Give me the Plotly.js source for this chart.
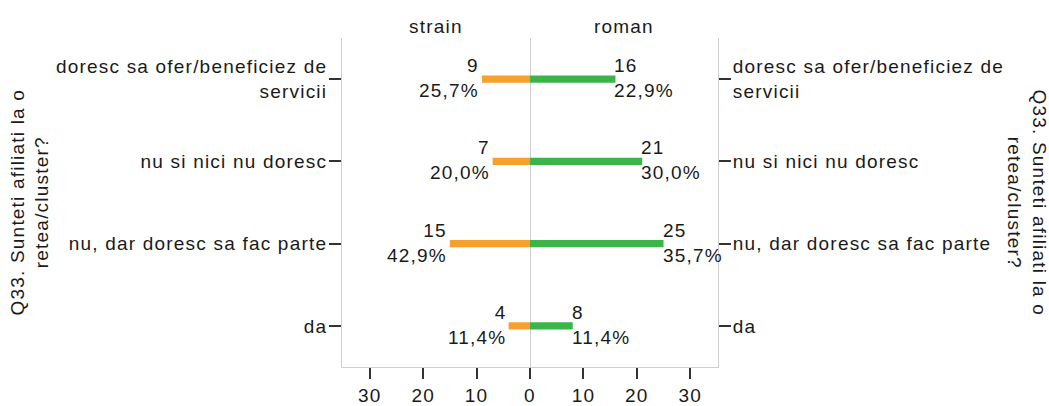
<!DOCTYPE html>
<html>
<head>
<meta charset="utf-8">
<script src="https://cdn.plot.ly/plotly-3.0.1.min.js"></script>
<style>
html, body { margin: 0; padding: 0; background: #fff; }
#chart { width: 1049px; height: 406px; }
text { letter-spacing: 1.2px; }
</style>
</head>
<body>
<div id="chart"></div>
<script>
// Categories, top to bottom
const categories = [
  "doresc sa ofer/beneficiez de servicii",
  "nu si nici nu doresc",
  "nu, dar doresc sa fac parte",
  "da"
];
const categoryLabels = [
  "doresc sa ofer/beneficiez de<br>servicii",
  "nu si nici nu doresc",
  "nu, dar doresc sa fac parte",
  "da"
];
const groupNames = ["strain", "roman"];
const strainCounts = [9, 7, 15, 4];
const strainPct = ["25,7%", "20,0%", "42,9%", "11,4%"];
const romanCounts = [16, 21, 25, 8];
const romanPct = ["22,9%", "30,0%", "35,7%", "11,4%"];
const xTickVals = [-30, -20, -10, 0, 10, 20, 30];
const xTickText = ["30", "20", "10", "0", "10", "20", "30"];
const axisTitle = "Q33. Sunteti afiliati la o<br>retea/cluster?";

const FONT = "Liberation Sans, Arial, sans-serif";
const TXT = "#1a1a1a";
const FS = 19;

const traces = [
  {
    type: "bar", orientation: "h", name: groupNames[0],
    y: categories, x: strainCounts.map(v => -v),
    marker: { color: "#f7a02b", line: { width: 0 } },
    width: 0.088, yaxis: "y", hoverinfo: "skip"
  },
  {
    type: "bar", orientation: "h", name: groupNames[1],
    y: categories, x: romanCounts,
    marker: { color: "#3bb54a", line: { width: 0 } },
    width: 0.088, yaxis: "y2", hoverinfo: "skip"
  }
];

const annotations = [];
categories.forEach((c, i) => {
  annotations.push({
    x: -strainCounts[i], y: c, xref: "x", yref: "y",
    text: strainCounts[i] + "<br>" + strainPct[i],
    showarrow: false, xanchor: "right", yanchor: "middle", align: "right",
    xshift: -1, yshift: 1, font: { family: FONT, size: FS, color: TXT }
  });
  annotations.push({
    x: romanCounts[i], y: c, xref: "x", yref: "y",
    text: romanCounts[i] + "<br>" + romanPct[i],
    showarrow: false, xanchor: "left", yanchor: "middle", align: "left",
    xshift: -3, yshift: 1, font: { family: FONT, size: FS, color: TXT }
  });
});
// group headers
annotations.push({ x: 0.25, y: 1.035, xref: "paper", yref: "paper", text: groupNames[0],
  showarrow: false, xanchor: "center", yanchor: "middle", font: { family: FONT, size: FS, color: TXT } });
annotations.push({ x: 0.75, y: 1.035, xref: "paper", yref: "paper", text: groupNames[1],
  showarrow: false, xanchor: "center", yanchor: "middle", font: { family: FONT, size: FS, color: TXT } });

// axis titles, positions converted from pixels to paper coordinates
const L = 342, R = 331, W = 1049;
const pw = W - L - R;
annotations.push({ x: (29 - L) / pw, y: 0.5, xref: "paper", yref: "paper", xanchor: "center", yanchor: "middle",
  text: axisTitle, textangle: -90, showarrow: false, align: "center",
  font: { family: FONT, size: FS, color: TXT } });
annotations.push({ x: (1027 - L) / pw, y: 0.5, xref: "paper", yref: "paper", xanchor: "center", yanchor: "middle",
  text: axisTitle, textangle: 90, showarrow: false, align: "center",
  font: { family: FONT, size: FS, color: TXT } });

const yCommon = {
  type: "category", categoryarray: categories, range: [3.5, -0.5],
  tickvals: categories, ticktext: categoryLabels,
  ticks: "outside", ticklen: 12, tickwidth: 2, tickcolor: "#333333",
  showline: true, linecolor: "#cfcfcf", linewidth: 1,
  showgrid: false, zeroline: false, fixedrange: true,
  tickfont: { family: FONT, size: FS, color: TXT }
};

const layout = {
  width: 1049, height: 406,
  margin: { l: L, r: R, t: 38, b: 39, pad: 0 },
  paper_bgcolor: "#ffffff", plot_bgcolor: "#ffffff",
  showlegend: false, barmode: "overlay",
  xaxis: {
    range: [-35.2, 35.2], tickvals: xTickVals, ticktext: xTickText,
    ticks: "outside", ticklen: 11, tickwidth: 2, tickcolor: "#333333",
    showline: true, linecolor: "#cfcfcf", linewidth: 1,
    showgrid: false, zeroline: true, zerolinecolor: "#cfcfcf", zerolinewidth: 1,
    tickfont: { family: FONT, size: FS, color: TXT }, fixedrange: true
  },
  yaxis: Object.assign({}, yCommon, { side: "left", ticklabelstandoff: -2 }),
  yaxis2: Object.assign({}, yCommon, { side: "right", overlaying: "y", ticklabelstandoff: -2 }),
  annotations: annotations
};

Plotly.newPlot("chart", traces, layout, { staticPlot: true, displayModeBar: false });
</script>
</body>
</html>
